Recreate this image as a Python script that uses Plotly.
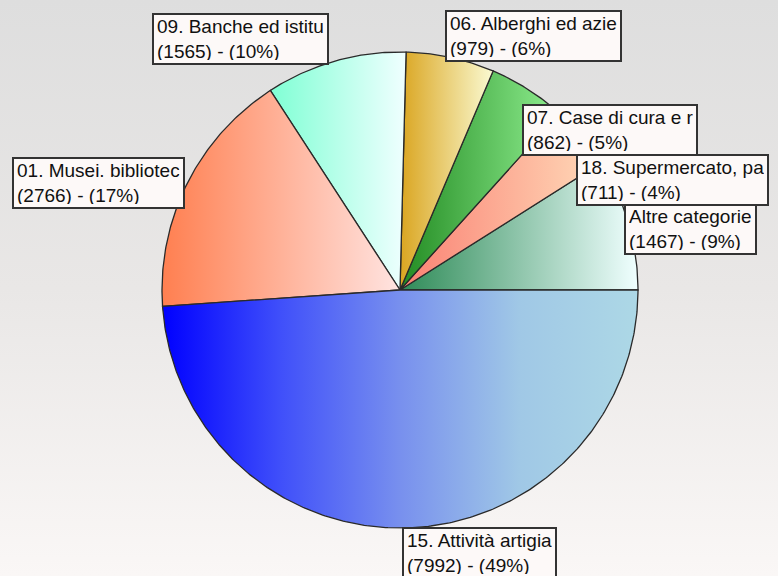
"""Torta con gradienti: ripartizione per categoria"""
import math
import plotly.graph_objects as go

# Dati (ordine antiorario a partire dalle ore 3)
labels = [
    "Altre categorie",
    "18. Supermercato, pa",
    "07. Case di cura e r",
    "06. Alberghi ed azie",
    "09. Banche ed istitu",
    "01. Musei. bibliotec",
    "15. Attività artigia",
]
values = [1467, 711, 862, 979, 1565, 2766, 7992]
percents = [9, 4, 5, 6, 10, 17, 49]

# Sfumature orizzontali per ogni fetta (da sinistra a destra)
gradients = [
    [[0, "#2E8B57"], [1, "#F0FFFF"]],
    [[0, "#FA8072"], [1, "#FFDAB9"]],
    [[0, "#228B22"], [1, "#90EE90"]],
    [[0, "#DAA520"], [1, "#FAFAD2"]],
    [[0, "#7FFFD4"], [1, "#F0FFFF"]],
    [[0, "#FF7F50"], [1, "#FFE4E1"]],
    [[0, "#0000FF"], [0.25, "#4050FA"], [0.5, "#7890EE"], [0.75, "#A0C8E6"], [1, "#ADD8E6"]],
]

# Posizione delle etichette (angolo in alto a sinistra, in pixel)
label_pos = [(624, 203), (576, 154), (522, 104), (445, 10), (152, 13), (12, 157), (402, 527)]

W, H = 778, 576
CX, CY, R = 400, 290, 238


def slice_path(f0, f1):
    """Punti del settore tra due frazioni cumulative"""
    a0, a1 = f0 * 2 * math.pi, f1 * 2 * math.pi
    n = max(int((a1 - a0) / 0.01), 2)
    xs, ys = [CX], [CY]
    for k in range(n + 1):
        a = a0 + (a1 - a0) * k / n
        xs.append(CX + R * math.cos(a))
        ys.append(CY - R * math.sin(a))
    xs.append(CX)
    ys.append(CY)
    return xs, ys


fig = go.Figure()

# Sfondo sfumato
fig.add_trace(go.Scatter(
    x=[0, W, W, 0, 0], y=[0, 0, H, H, 0],
    mode="lines", fill="toself", line=dict(width=0),
    fillgradient=dict(type="vertical",
                      colorscale=[[0, "#faf7f6"], [0.5, "#e9e7e6"], [1, "#dedede"]]),
    hoverinfo="skip", showlegend=False,
))

total = sum(values)
cum = 0
for i, v in enumerate(values):
    f0 = cum / total
    cum += v
    f1 = cum / total
    xs, ys = slice_path(f0, f1)
    fig.add_trace(go.Scatter(
        x=xs, y=ys, mode="lines", fill="toself",
        line=dict(color="#2a2a2a", width=1.3),
        fillgradient=dict(type="horizontal", colorscale=gradients[i]),
        name=labels[i], hoverinfo="name", showlegend=False,
    ))

for i, lab in enumerate(labels):
    x, y = label_pos[i]
    fig.add_annotation(
        x=x, y=y, xref="x", yref="y", xanchor="left", yanchor="top",
        text=f"{lab}<br>({values[i]}) - ({percents[i]}%)",
        showarrow=False, align="left", valign="middle", height=42,
        font=dict(family="Liberation Sans, Arial, sans-serif", size=19, color="#111111"),
        bgcolor="#fdf9f8", bordercolor="#333333", borderwidth=2, borderpad=3,
    )

fig.update_layout(
    width=W, height=H,
    margin=dict(l=0, r=0, t=0, b=0),
    paper_bgcolor="#e8e6e5", plot_bgcolor="#e8e6e5",
    xaxis=dict(range=[0, W], visible=False, fixedrange=True),
    yaxis=dict(range=[H, 0], visible=False, fixedrange=True),
    showlegend=False,
)

fig.write_html(
    "out.html",
    config={"displayModeBar": False},
    post_script="document.body.style.margin='0';document.body.style.overflow='hidden';",
)
